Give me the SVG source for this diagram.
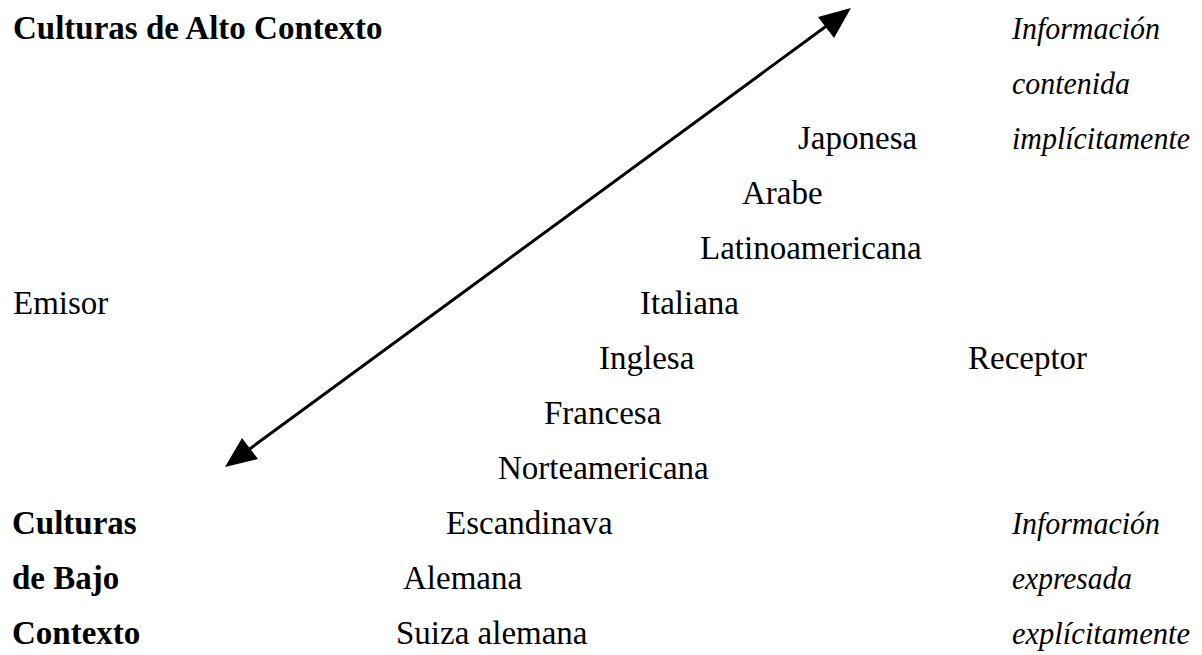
<svg xmlns="http://www.w3.org/2000/svg" width="1202" height="655" viewBox="0 0 1202 655">
<style>
text{font-family:"Liberation Serif","Times New Roman",serif;font-size:33px;fill:#000}
.b{font-weight:bold}
.i{font-style:italic;font-size:31px}
</style>
<rect width="1202" height="655" fill="#fff"/>
<g id="connectors">
<line x1="240" y1="456" x2="836" y2="19" stroke="#000" stroke-width="3"/>
<polygon points="851,8 818,17 834,38" fill="#000"/>
<polygon points="225,467 258,459 242,438" fill="#000"/>
</g>
<g id="alto"><text class="b" x="13" y="39">Culturas de Alto Contexto</text></g>
<g id="info-implicita">
<text class="i" x="1012" y="39" textLength="148" lengthAdjust="spacingAndGlyphs">Información</text>
<text class="i" x="1012" y="94" textLength="118" lengthAdjust="spacingAndGlyphs">contenida</text>
<text class="i" x="1012" y="149" textLength="178" lengthAdjust="spacingAndGlyphs">implícitamente</text>
</g>
<g id="japonesa"><text x="798" y="149">Japonesa</text></g>
<g id="arabe"><text x="742" y="204">Arabe</text></g>
<g id="latinoamericana"><text x="700" y="259">Latinoamericana</text></g>
<g id="emisor"><text x="13" y="314">Emisor</text></g>
<g id="italiana"><text x="640" y="314">Italiana</text></g>
<g id="inglesa"><text x="599" y="369">Inglesa</text></g>
<g id="receptor"><text x="968" y="369">Receptor</text></g>
<g id="francesa"><text x="544" y="424">Francesa</text></g>
<g id="norteamericana"><text x="498" y="479">Norteamericana</text></g>
<g id="bajo">
<text class="b" x="12" y="534">Culturas</text>
<text class="b" x="12" y="589">de Bajo</text>
<text class="b" x="12" y="644">Contexto</text>
</g>
<g id="escandinava"><text x="446" y="534">Escandinava</text></g>
<g id="alemana"><text x="403" y="589">Alemana</text></g>
<g id="suiza"><text x="396" y="644">Suiza alemana</text></g>
<g id="info-explicita">
<text class="i" x="1012" y="534" textLength="148" lengthAdjust="spacingAndGlyphs">Información</text>
<text class="i" x="1012" y="589" textLength="120" lengthAdjust="spacingAndGlyphs">expresada</text>
<text class="i" x="1012" y="644" textLength="178" lengthAdjust="spacingAndGlyphs">explícitamente</text>
</g>
</svg>
